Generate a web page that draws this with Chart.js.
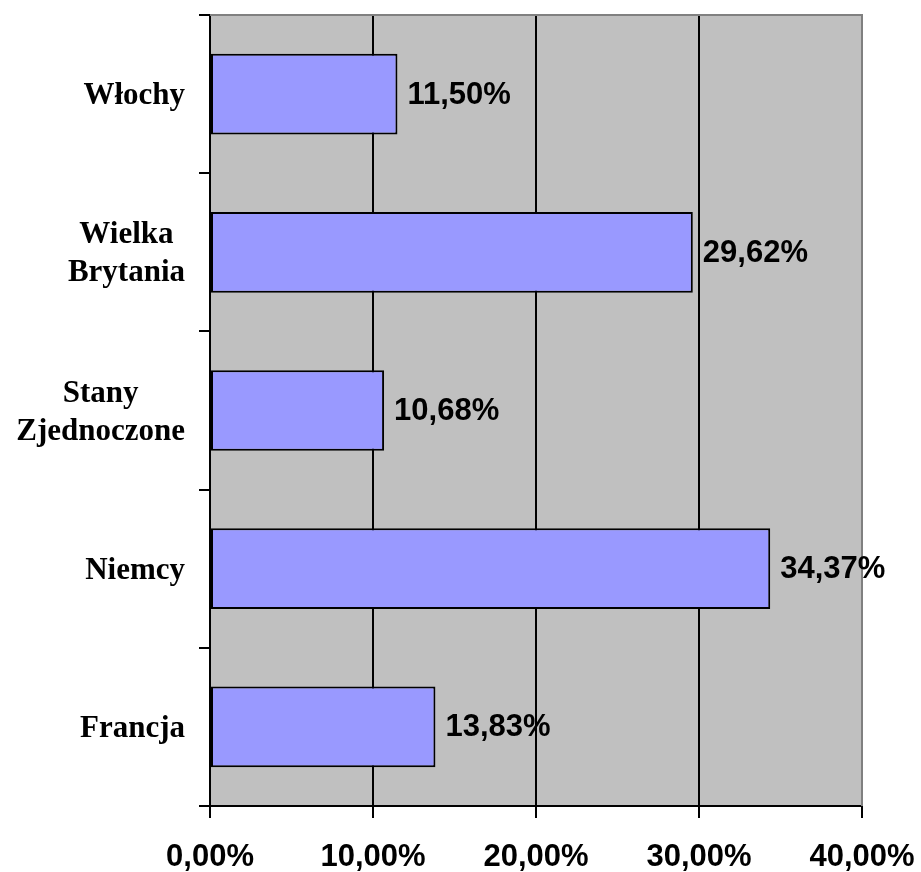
<!DOCTYPE html>
<html lang="pl">
<head>
  <meta charset="UTF-8">
  <title>Udział</title>
  <script src="https://cdn.jsdelivr.net/npm/chart.js@4/dist/chart.umd.min.js"></script>
  <style>
    html, body { margin: 0; padding: 0; background: #fff; }
    canvas { display: block; }
  </style>
</head>
<body>
  <canvas id="myChart" width="921" height="872"></canvas>
  <script>
    // kraje od góry do dołu
    const categories = ['Włochy', ['Wielka', 'Brytania'], ['Stany', 'Zjednoczone'], 'Niemcy', 'Francja']
    const values = [11.50, 29.62, 10.68, 34.37, 13.83]
    const xTicks = [0, 10, 20, 30, 40]

    const fmt = v => v.toFixed(2).replace('.', ',') + '%'

    const plotBg = {
      id: 'plotBg',
      beforeDraw(chart) {
        const { ctx, chartArea: a } = chart
        ctx.save()
        ctx.fillStyle = '#C0C0C0'
        ctx.fillRect(a.left, a.top, a.right - a.left, a.bottom - a.top)
        ctx.restore()
      },
      beforeDatasetsDraw(chart) {
        // górna i prawa krawędź obszaru wykresu
        const { ctx, chartArea: a } = chart
        ctx.save()
        ctx.strokeStyle = '#808080'
        ctx.lineWidth = 2
        ctx.beginPath()
        ctx.moveTo(a.left, a.top)
        ctx.lineTo(a.right, a.top)
        ctx.lineTo(a.right, a.bottom)
        ctx.stroke()
        ctx.restore()
      },
      afterDatasetsDraw(chart) {
        const { ctx } = chart
        const xs = chart.scales.x
        const ys = chart.scales.y
        ctx.save()
        // wartości przy słupkach
        ctx.fillStyle = '#000'
        ctx.font = 'bold 31px "Liberation Sans", Arial, sans-serif'
        ctx.textAlign = 'left'
        ctx.textBaseline = 'middle'
        values.forEach((v, i) => {
          ctx.fillText(fmt(v), xs.getPixelForValue(v) + 10, ys.getPixelForValue(i) + 1)
        })
        // nazwy krajów: blok wyrównany do prawej, linie wyśrodkowane
        ctx.font = 'bold 31px "Liberation Serif", "Times New Roman", serif'
        ctx.textAlign = 'center'
        const right = 185, lh = 38
        categories.forEach((c, i) => {
          const lines = Array.isArray(c) ? c : [c]
          const w = Math.max(...lines.map(l => ctx.measureText(l).width))
          const cx = right - w / 2
          const cy = ys.getPixelForValue(i) + 2
          lines.forEach((l, j) => {
            ctx.fillText(l, cx, cy + (j - (lines.length - 1) / 2) * lh)
          })
        })
        ctx.restore()
      }
    }

    const ctx = document.getElementById('myChart').getContext('2d')
    new Chart(ctx, {
      type: 'bar',
      data: {
        labels: categories,
        datasets: [{
          data: values,
          backgroundColor: '#9999FF',
          borderColor: '#000',
          borderWidth: 2,
          borderSkipped: false,
          categoryPercentage: 0.51,
          barPercentage: 1
        }]
      },
      plugins: [plotBg],
      options: {
        indexAxis: 'y',
        responsive: false,
        animation: false,
        layout: { padding: { top: 15, right: 59, left: 0, bottom: 0 } },
        plugins: {
          legend: { display: false },
          tooltip: { enabled: false }
        },
        scales: {
          x: {
            min: 0,
            max: 40,
            afterFit: s => {
              s.height = 66
              s.paddingLeft = 0
              s.paddingRight = 0
            },
            afterBuildTicks: s => { s.ticks = xTicks.map(v => ({ value: v })) },
            border: { color: '#000', width: 2 },
            grid: {
              color: c => (c.tick && c.tick.value === 40 ? '#808080' : '#000'),
              tickColor: '#000',
              lineWidth: 2,
              tickLength: 12
            },
            ticks: {
              color: '#000',
              padding: 21,
              maxRotation: 0,
              font: { family: '"Liberation Sans", Arial, sans-serif', size: 31, weight: 'bold' },
              callback: v => fmt(v)
            }
          },
          y: {
            afterFit: s => {
              s.width = 210
              s.paddingTop = 0
              s.paddingBottom = 0
            },
            border: { color: '#000', width: 2 },
            grid: {
              offset: true,
              drawOnChartArea: false,
              color: '#000',
              lineWidth: 2,
              tickLength: 11
            },
            ticks: { display: false }
          }
        }
      }
    })
  </script>
</body>
</html>
